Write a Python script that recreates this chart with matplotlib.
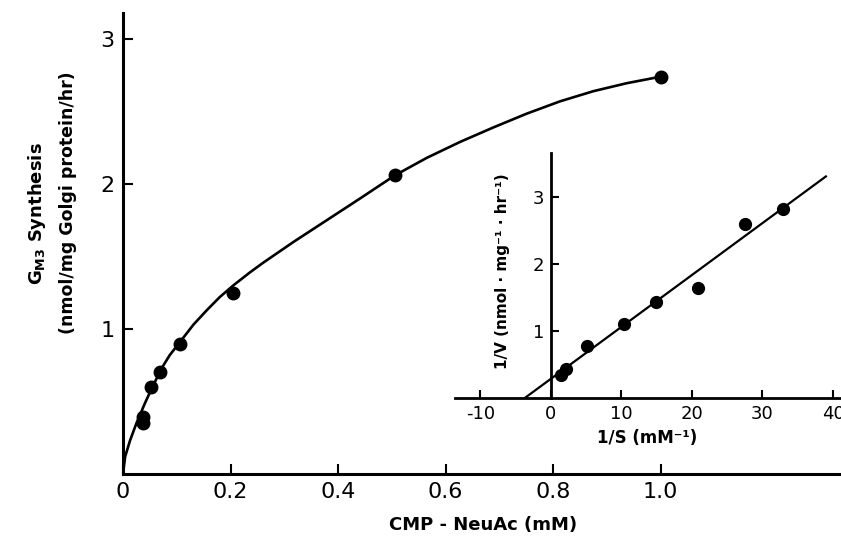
import numpy as np
import matplotlib
matplotlib.use("Agg")
import matplotlib.pyplot as plt

plt.rcParams["axes.unicode_minus"] = False

# main plot: GM3 synthesis vs CMP-NeuAc
s_mM = [0.037, 0.038, 0.053, 0.069, 0.106, 0.205, 0.506, 1.0]
v_rate = [0.35, 0.395, 0.60, 0.705, 0.90, 1.25, 2.06, 2.74]

# hand drawn saturation curve
curve_s = [0.0, 0.001, 0.004, 0.013, 0.025, 0.041, 0.056, 0.072, 0.087, 0.106,
           0.131, 0.156, 0.180, 0.205, 0.236, 0.260, 0.317, 0.379, 0.441,
           0.506, 0.565, 0.627, 0.689, 0.751, 0.813, 0.875, 0.937, 1.0]
curve_v = [0.0, 0.03, 0.12, 0.23, 0.35, 0.49, 0.61, 0.73, 0.82, 0.91,
           1.03, 1.13, 1.22, 1.30, 1.39, 1.455, 1.60, 1.75, 1.90,
           2.06, 2.18, 2.29, 2.39, 2.485, 2.57, 2.64, 2.695, 2.74]

# inset: double reciprocal plot
inv_s = [1.4, 2.2, 5.1, 10.3, 14.9, 20.9, 27.5, 32.9]
inv_v = [0.34, 0.44, 0.77, 1.10, 1.43, 1.64, 2.60, 2.82]
fit_x = [-3.7, 39.0]
fit_y = [0.0, 3.31]

main_xticks = [0, 0.2, 0.4, 0.6, 0.8, 1.0]
main_xlabels = ["0", "0.2", "0.4", "0.6", "0.8", "1.0"]
main_yticks = [1, 2, 3]
inset_xticks = [-10, 0, 10, 20, 30, 40]
inset_yticks = [1, 2, 3]

W, H = 841, 543
fig = plt.figure(figsize=(W / 100, H / 100), dpi=100)

ax = fig.add_axes([123 / W, 69 / H, 717 / W, 461 / H])
ax.plot(curve_s, curve_v, color="black", lw=1.9, solid_joinstyle="round")
ax.plot(s_mM, v_rate, "o", color="black", ms=9)
ax.set_xlim(0, 717 / 537.5)
ax.set_ylim(0, 461 / 145)
for sp in ["top", "right"]:
    ax.spines[sp].set_visible(False)
for sp in ["left", "bottom"]:
    ax.spines[sp].set_linewidth(2.2)
ax.set_xticks(main_xticks)
ax.set_xticklabels(main_xlabels)
ax.set_yticks(main_yticks)
ax.tick_params(direction="in", length=7, width=1.5, labelsize=16, pad=6)

fig.text(37 / W, 1 - 214 / H, r"G$_{\mathbf{M3}}$ Synthesis", rotation=90,
         ha="center", va="center", fontsize=13, fontweight="bold")
fig.text(68 / W, 1 - 203 / H, "(nmol/mg Golgi protein/hr)", rotation=90,
         ha="center", va="center", fontsize=12.5, fontweight="bold")
fig.text(483 / W, 1 - 525 / H, "CMP - NeuAc (mM)", ha="center", va="center",
         fontsize=13, fontweight="bold")

# inset
ax2 = fig.add_axes([455 / W, 145 / H, 385 / W, 245 / H])
ax2.set_facecolor("none")
ax2.plot(fit_x, fit_y, color="black", lw=1.6)
ax2.plot(inv_s, inv_v, "o", color="black", ms=8.5)
ax2.set_xlim(-13.6, 41)
ax2.set_ylim(0, 3.66)
for sp in ["top", "right"]:
    ax2.spines[sp].set_visible(False)
ax2.spines["left"].set_position(("data", 0))
for sp in ["left", "bottom"]:
    ax2.spines[sp].set_linewidth(2.0)
ax2.set_xticks(inset_xticks)
ax2.set_yticks(inset_yticks)
ax2.tick_params(direction="in", length=6, width=1.5, labelsize=13, pad=5)

fig.text(503 / W, 1 - 271 / H, "1/V (nmol · mg⁻¹ · hr⁻¹)", rotation=90,
         ha="center", va="center", fontsize=11, fontweight="bold")
fig.text(647 / W, 1 - 438 / H, "1/S (mM⁻¹)", ha="center", va="center",
         fontsize=12, fontweight="bold")

fig.savefig("out.png", dpi=100)
